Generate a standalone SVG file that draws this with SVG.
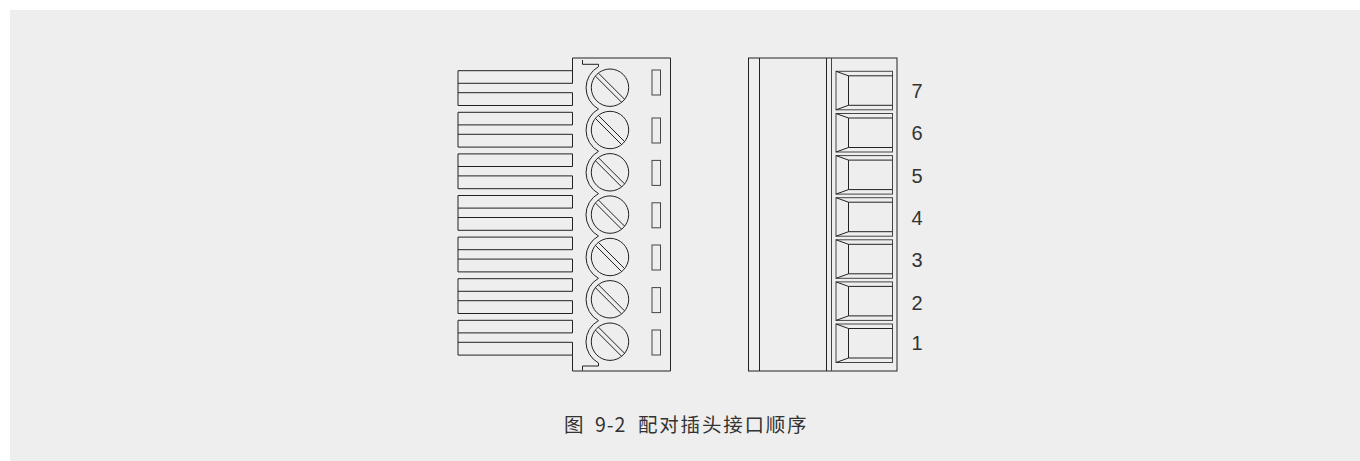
<svg xmlns="http://www.w3.org/2000/svg" xmlns:xlink="http://www.w3.org/1999/xlink" width="1360" height="461" viewBox="0 0 1360 461">
<style>
.l{fill:none;stroke:#222;stroke-width:1}
.g{fill:none;stroke:#444;stroke-width:1}
.n{font-family:"Liberation Sans",Arial,sans-serif;font-size:20px;fill:#333}
.c{font-family:"Noto Sans CJK SC",sans-serif;font-size:19.5px;fill:#333}
</style>
<defs>
<g id="wire"><path class="l" d="M572.5 0H458V34.8H572.5M458 12.6H572.5V0M458 22H572.5V34.8"/></g>
<g id="screw"><circle class="l" cx="0" cy="0" r="18.7"/><path class="l" d="M-14.5 -11.500L11.500 14.500M-11.500 -14.500L14.500 11.500"/></g>
<g id="cell"><rect class="g" x="836" y="0" width="56.500" height="38.500"/><path class="l" d="M836 0L848.500 4.500H892.500M836 38.500L848.500 34H892.500M848.500 4.500V34"/></g>
</defs>
<rect x="0" y="0" width="1360" height="461" fill="#fff"/>
<rect x="10" y="10" width="1350" height="451" fill="#eee"/>
<g id="left-plug">
<path class="l" d="M572.500 83.300V58H670.500V371H572.500V355.300"/>
<use xlink:href="#wire" y="70.700"/><use xlink:href="#wire" y="112.300"/><use xlink:href="#wire" y="153.900"/><use xlink:href="#wire" y="195.500"/><use xlink:href="#wire" y="237.100"/><use xlink:href="#wire" y="278.700"/><use xlink:href="#wire" y="320.300"/>
<use xlink:href="#screw" x="610" y="87.700"/><use xlink:href="#screw" x="610" y="130"/><use xlink:href="#screw" x="610" y="172.300"/><use xlink:href="#screw" x="610" y="214.600"/><use xlink:href="#screw" x="610" y="257"/><use xlink:href="#screw" x="610" y="299.300"/><use xlink:href="#screw" x="610" y="341.700"/>
<path class="l" d="M582.500 60V64.300H598.500V66.700A24.200 24.200 0 0 0 598.500 109A24.200 24.200 0 0 0 598.500 151.300A24.200 24.200 0 0 0 598.500 193.600A24.200 24.200 0 0 0 598.500 236A24.200 24.200 0 0 0 598.500 278.300A24.200 24.200 0 0 0 598.500 320.600A24.200 24.200 0 0 0 598.500 363V366H582.500V370.500"/>
<g class="g"><rect x="652" y="70" width="8.500" height="25"/><rect x="652" y="118" width="8.500" height="25"/><rect x="652" y="160.400" width="8.500" height="25"/><rect x="652" y="202.800" width="8.500" height="25"/><rect x="652" y="245" width="8.500" height="25"/><rect x="652" y="287.600" width="8.500" height="25"/><rect x="652" y="330" width="8.500" height="25"/></g>
</g>
<g id="right-plug">
<rect class="l" x="748.500" y="58" width="148.500" height="313"/>
<path class="l" d="M759.500 58V371M826.500 58V371"/><path class="g" d="M831.500 58V371"/>
<use xlink:href="#cell" y="71.300"/><use xlink:href="#cell" y="113.500"/><use xlink:href="#cell" y="155.600"/><use xlink:href="#cell" y="197.700"/><use xlink:href="#cell" y="239.800"/><use xlink:href="#cell" y="281.900"/><use xlink:href="#cell" y="324"/>
</g>
<g id="labels">
<text class="n" x="911.500" y="98">7</text><text class="n" x="911.500" y="140">6</text><text class="n" x="911.500" y="183">5</text><text class="n" x="911.500" y="225">4</text><text class="n" x="911.500" y="267">3</text><text class="n" x="911.500" y="310">2</text><text class="n" x="911.500" y="350">1</text>
</g>
<text id="caption" class="c" y="432"><tspan x="564">图</tspan><tspan x="595" letter-spacing="1">9-2</tspan><tspan x="638" letter-spacing="1.800">配对插头接口顺序</tspan></text>
</svg>
